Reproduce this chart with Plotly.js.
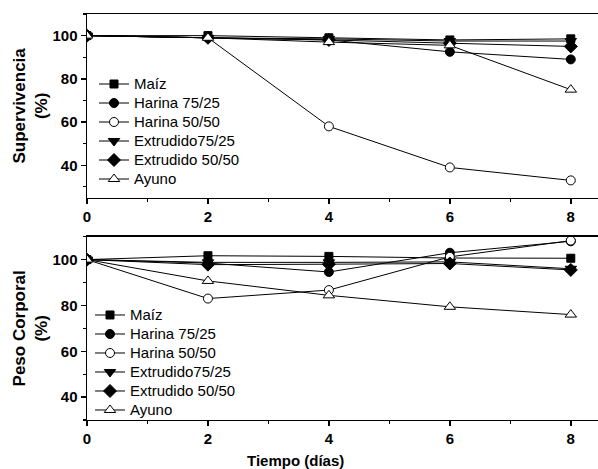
<!DOCTYPE html>
<html>
<head>
<meta charset="utf-8">
<script src="https://cdn.plot.ly/plotly-3.0.1.min.js"></script>
<style>html,body{margin:0;padding:0;background:#fff;}#chart{width:598px;height:469px;}</style>
</head>
<body>
<div id="chart"></div>
<script>
// Day axis
const days = [0, 2, 4, 6, 8];
const seriesNames = ["Maíz", "Harina 75/25", "Harina 50/50", "Extrudido75/25", "Extrudido 50/50", "Ayuno"];

// Supervivencia (%)
const survMaiz       = [100, 100, 99, 98, 98.5];
const survHarina7525 = [100, 99, 98, 92.5, 89];
const survHarina5050 = [100, 99, 58, 39, 33];
const survExtr7525   = [100, 99, 98.5, 97.5, 97.5];
const survExtr5050   = [100, 99, 98, 96.5, 95];
const survAyuno      = [100, 99, 97, 95.5, 75];

// Peso Corporal (%)
const pesoMaiz       = [100, 101.7, 101.4, 100.7, 100.6];
const pesoHarina7525 = [100, 98.5, 94.6, 103, 108];
const pesoHarina5050 = [100, 83, 86.7, 101.2, 108.3];
const pesoExtr7525   = [100, 98.8, 98.8, 99, 96];
const pesoExtr5050   = [100, 97.8, 98, 98.3, 95.5];
const pesoAyuno      = [100, 90.7, 84.4, 79.4, 76];

const survData = [survMaiz, survHarina7525, survHarina5050, survExtr7525, survExtr5050, survAyuno];
const pesoData = [pesoMaiz, pesoHarina7525, pesoHarina5050, pesoExtr7525, pesoExtr5050, pesoAyuno];

const markerStyles = [
  {symbol: "square", size: 8, open: false},
  {symbol: "circle", size: 9, open: false},
  {symbol: "circle", size: 9, open: true},
  {symbol: "triangle-down", size: 10, open: false},
  {symbol: "diamond", size: 10, open: false},
  {symbol: "triangle-up", size: 10, open: true}
];

const traces = [];
function addSet(data, xa, ya, legendName) {
  data.forEach((vals, i) => {
    const m = markerStyles[i];
    traces.push({
      x: days, y: vals, xaxis: xa, yaxis: ya, legend: legendName,
      name: '<span style="font-size:15px">' + seriesNames[i] + '</span>',
      type: "scatter", mode: "lines+markers", cliponaxis: true,
      line: {color: "#000", width: 1},
      marker: {
        symbol: m.symbol, size: m.size,
        color: m.open ? "#fff" : "#000",
        line: {color: "#000", width: 1}
      }
    });
  });
}
addSet(survData, "x", "y", "legend");
addSet(pesoData, "x2", "y2", "legend2");

const fontFam = "Liberation Sans, Arial, sans-serif";
const xCommon = {
  range: [0, 8.45], showgrid: false, zeroline: false,
  showline: true, linecolor: "#000", linewidth: 1.5, mirror: true,
  ticks: "outside", ticklen: 5, tickwidth: 1.5, tickcolor: "#000",
  tickvals: [0, 2, 4, 6, 8],
  minor: {tickvals: [1, 3, 5, 7], ticks: "outside", ticklen: 3, tickwidth: 1.2, tickcolor: "#000"},
  tickfont: {family: fontFam, size: 15, color: "#000", weight: "bold"},
  domain: [0, 1], automargin: false, fixedrange: true
};
const yCommon = {
  showgrid: false, zeroline: false,
  showline: true, linecolor: "#000", linewidth: 1.5,
  ticks: "outside", ticklen: 5, tickwidth: 1.5, tickcolor: "#000",
  tickvals: [40, 60, 80, 100],
  minor: {tickvals: [30, 50, 70, 90, 110], ticks: "outside", ticklen: 3, tickwidth: 1.2, tickcolor: "#000"},
  tickfont: {family: fontFam, size: 15, color: "#000", weight: "bold"},
  automargin: true, fixedrange: true
};
const titleFont = {family: fontFam, size: 17, color: "#000", weight: "bold"};

const layout = {
  width: 598, height: 469,
  margin: {l: 87, r: 0, t: 0, b: 0},
  paper_bgcolor: "#fff", plot_bgcolor: "#fff",
  showlegend: true,
  xaxis: Object.assign({}, xCommon, {anchor: "y"}),
  yaxis: Object.assign({}, yCommon, {
    anchor: "x", range: [25, 110], domain: [0.5785, 0.9701],
    title: {text: "Supervivencia<br>(%)", font: titleFont, standoff: 0}
  }),
  xaxis2: Object.assign({}, xCommon, {anchor: "y2"}),
  yaxis2: Object.assign({}, yCommon, {
    anchor: "x2", range: [30, 110], domain: [0.1045, 0.4953],
    title: {text: "Peso Corporal<br>(%)", font: titleFont, standoff: 0}
  }),
  legend: {
    x: 7 / 511, y: 0.8518, xanchor: "left", yanchor: "top",
    bgcolor: "rgba(0,0,0,0)", borderwidth: 0,
    font: {family: fontFam, size: 12, color: "#000"},
    tracegroupgap: 0, itemwidth: 30
  },
  legend2: {
    x: 3 / 511, y: 0.3593, xanchor: "left", yanchor: "top",
    bgcolor: "rgba(0,0,0,0)", borderwidth: 0,
    font: {family: fontFam, size: 12, color: "#000"},
    tracegroupgap: 0, itemwidth: 30
  },
  annotations: [{
    text: "Tiempo (días)", xref: "paper", yref: "paper",
    x: (295 - 87) / 511, y: 1 - 460 / 469, xanchor: "center", yanchor: "middle",
    showarrow: false,
    font: {family: fontFam, size: 15, color: "#000", weight: "bold"}
  }]
};

Plotly.newPlot("chart", traces, layout, {displayModeBar: false, staticPlot: true});
</script>
</body>
</html>
